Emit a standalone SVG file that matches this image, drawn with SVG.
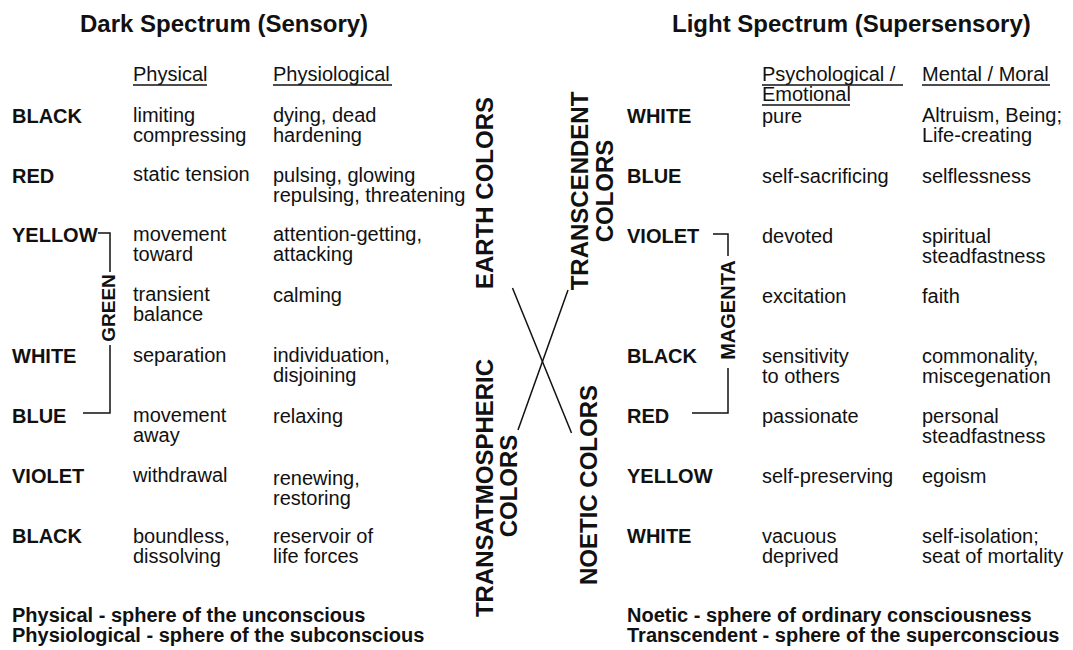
<svg xmlns="http://www.w3.org/2000/svg" width="1073" height="650" viewBox="0 0 1073 650">
<style>
text{font-family:"Liberation Sans",Arial,Helvetica,sans-serif;fill:#111}
.t{font-size:24px;font-weight:bold}
.c{font-size:20px;font-weight:bold}
.b{font-size:20px}
.v{font-size:24px;font-weight:bold;text-anchor:middle}
.g{font-size:19px;font-weight:bold;text-anchor:middle}
.u{stroke:#111;stroke-width:1.3}
.k{fill:none;stroke:#111;stroke-width:1.5}
.x{stroke:#111;stroke-width:1.5}
</style>
<rect width="1073" height="650" fill="#fff"/>

<g id="left-title"><text class="t" x="80" y="32">Dark Spectrum (Sensory)</text></g>
<g id="left-headers">
<text class="b" x="133" y="81">Physical</text><line class="u" x1="133" y1="85" x2="207" y2="85"/>
<text class="b" x="273" y="81">Physiological</text><line class="u" x1="273" y1="85" x2="392" y2="85"/>
</g>
<g id="l-black1"><text class="c" x="12" y="123">BLACK</text>
<text class="b" x="133" y="122">limiting<tspan x="133" dy="20">compressing</tspan></text>
<text class="b" x="273" y="122">dying, dead<tspan x="273" dy="20">hardening</tspan></text></g>
<g id="l-red"><text class="c" x="12" y="183">RED</text>
<text class="b" x="133" y="181">static tension</text>
<text class="b" x="273" y="182">pulsing, glowing<tspan x="273" dy="20">repulsing, threatening</tspan></text></g>
<g id="l-yellow"><text class="c" x="12" y="242">YELLOW</text>
<text class="b" x="133" y="241">movement<tspan x="133" dy="20">toward</tspan></text>
<text class="b" x="273" y="241">attention-getting,<tspan x="273" dy="20">attacking</tspan></text></g>
<g id="l-green"><text class="b" x="133" y="301">transient<tspan x="133" dy="20">balance</tspan></text>
<text class="b" x="273" y="302">calming</text>
<text class="g" transform="translate(115,308) rotate(-90)">GREEN</text></g>
<g id="l-white"><text class="c" x="12" y="363">WHITE</text>
<text class="b" x="133" y="362">separation</text>
<text class="b" x="273" y="362">individuation,<tspan x="273" dy="20">disjoining</tspan></text></g>
<g id="l-blue"><text class="c" x="12" y="423">BLUE</text>
<text class="b" x="133" y="422">movement<tspan x="133" dy="20">away</tspan></text>
<text class="b" x="273" y="423">relaxing</text></g>
<g id="l-violet"><text class="c" x="12" y="483">VIOLET</text>
<text class="b" x="133" y="482">withdrawal</text>
<text class="b" x="273" y="485">renewing,<tspan x="273" dy="20">restoring</tspan></text></g>
<g id="l-black2"><text class="c" x="12" y="543">BLACK</text>
<text class="b" x="133" y="543">boundless,<tspan x="133" dy="20">dissolving</tspan></text>
<text class="b" x="273" y="543">reservoir of<tspan x="273" dy="20">life forces</tspan></text></g>
<g id="left-notes"><text class="c" x="12" y="622">Physical - sphere of the unconscious<tspan x="12" dy="20">Physiological - sphere of the subconscious</tspan></text></g>

<g id="earth"><text class="v" transform="translate(493,193) rotate(-90)">EARTH COLORS</text></g>
<g id="transcendent"><text class="v" transform="translate(588,191) rotate(-90)">TRANSCENDENT<tspan x="0" dy="25">COLORS</tspan></text></g>
<g id="transatmospheric"><text class="v" transform="translate(493,488) rotate(-90)">TRANSATMOSPHERIC<tspan x="2" dy="24">COLORS</tspan></text></g>
<g id="noetic"><text class="v" transform="translate(597,485) rotate(-90)">NOETIC COLORS</text></g>

<g id="right-title"><text class="t" x="672" y="32">Light Spectrum (Supersensory)</text></g>
<g id="right-headers">
<text class="b" x="762" y="81">Psychological /<tspan x="762" dy="20">Emotional</tspan></text>
<line class="u" x1="762" y1="85" x2="903" y2="85"/><line class="u" x1="762" y1="105" x2="850" y2="105"/>
<text class="b" x="922" y="81">Mental / Moral</text><line class="u" x1="922" y1="85" x2="1050" y2="85"/>
</g>
<g id="r-white1"><text class="c" x="627" y="123">WHITE</text>
<text class="b" x="762" y="123">pure</text>
<text class="b" x="922" y="122">Altruism, Being;<tspan x="922" dy="20">Life-creating</tspan></text></g>
<g id="r-blue"><text class="c" x="627" y="183">BLUE</text>
<text class="b" x="762" y="183">self-sacrificing</text><text class="b" x="922" y="183">selflessness</text></g>
<g id="r-violet"><text class="c" x="627" y="243">VIOLET</text>
<text class="b" x="762" y="243">devoted</text>
<text class="b" x="922" y="243">spiritual<tspan x="922" dy="20">steadfastness</tspan></text></g>
<g id="r-magenta"><text class="b" x="762" y="303">excitation</text><text class="b" x="922" y="303">faith</text>
<text class="g" transform="translate(735,310) rotate(-90)" style="font-size:20px">MAGENTA</text></g>
<g id="r-black"><text class="c" x="627" y="363">BLACK</text>
<text class="b" x="762" y="363">sensitivity<tspan x="762" dy="20">to others</tspan></text>
<text class="b" x="922" y="363">commonality,<tspan x="922" dy="20">miscegenation</tspan></text></g>
<g id="r-red"><text class="c" x="627" y="423">RED</text>
<text class="b" x="762" y="423">passionate</text>
<text class="b" x="922" y="423">personal<tspan x="922" dy="20">steadfastness</tspan></text></g>
<g id="r-yellow"><text class="c" x="627" y="483">YELLOW</text>
<text class="b" x="762" y="483">self-preserving</text><text class="b" x="922" y="483">egoism</text></g>
<g id="r-white2"><text class="c" x="627" y="543">WHITE</text>
<text class="b" x="762" y="543">vacuous<tspan x="762" dy="20">deprived</tspan></text>
<text class="b" x="922" y="543">self-isolation;<tspan x="922" dy="20">seat of mortality</tspan></text></g>
<g id="right-notes"><text class="c" x="627" y="622">Noetic - sphere of ordinary consciousness<tspan x="627" dy="20">Transcendent - sphere of the superconscious</tspan></text></g>

<g id="connectors">
<path class="k" d="M98 233 H110 V272 M110 345 V413 H83"/>
<path class="k" d="M713 234 H728 V256 M728 368 V413 H692"/>
<line class="x" x1="512.5" y1="288" x2="571.5" y2="433"/>
<line class="x" x1="568" y1="290" x2="518" y2="430"/>
</g>
</svg>
